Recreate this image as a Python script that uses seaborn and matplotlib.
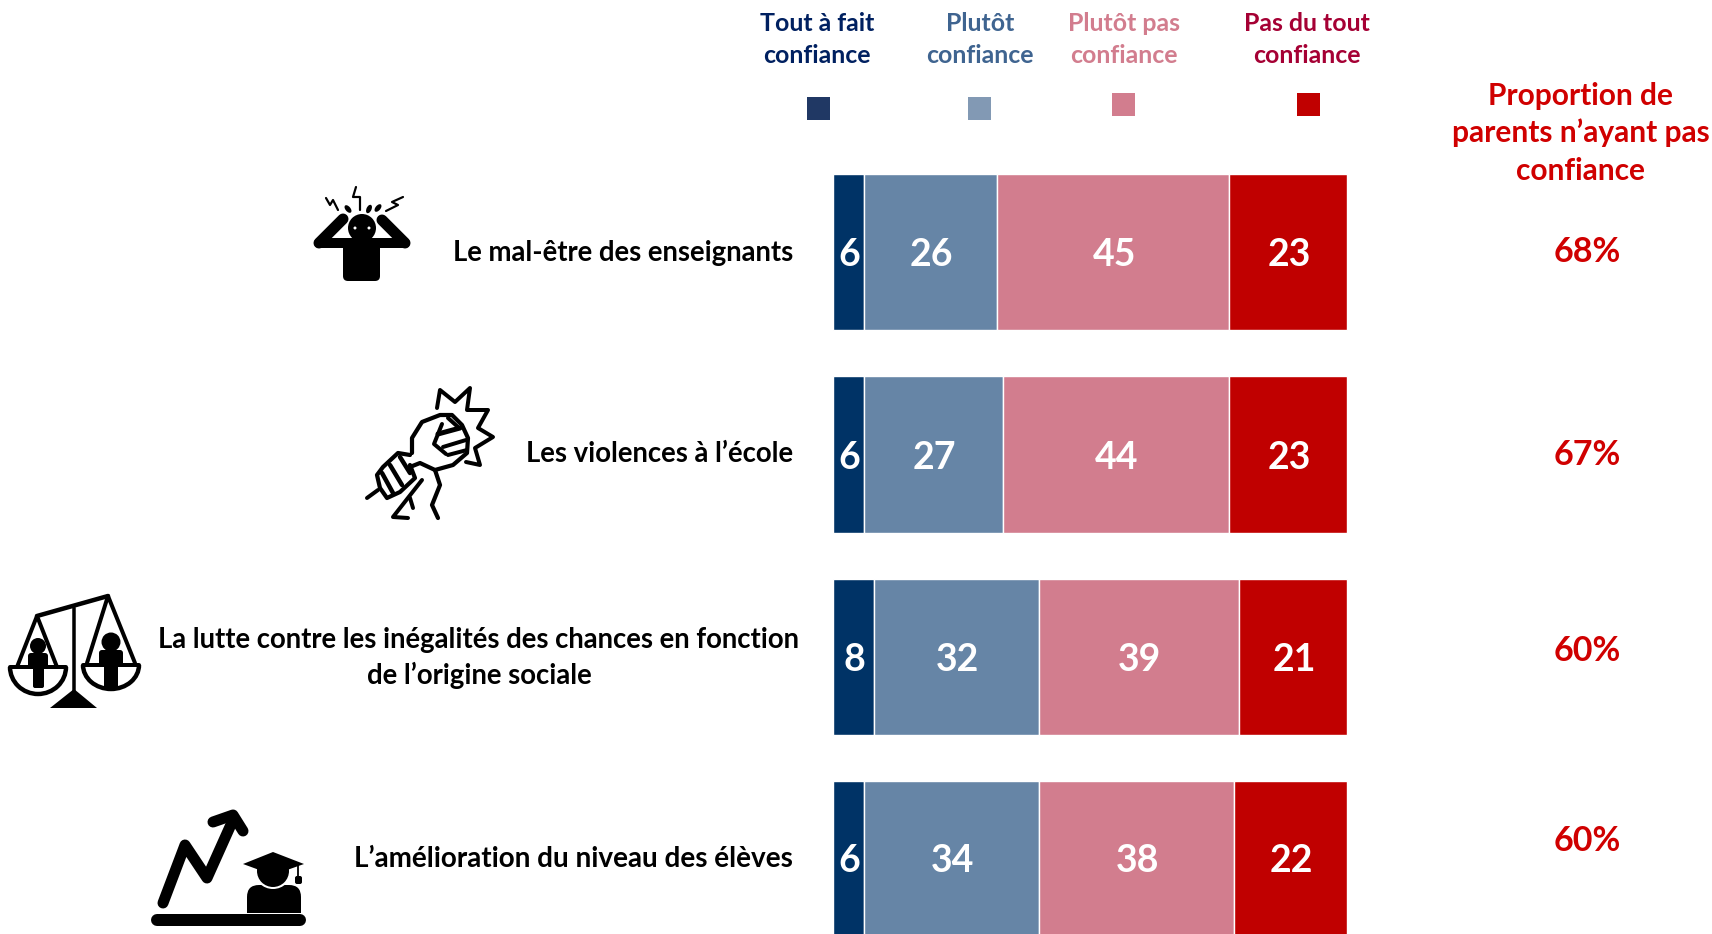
import matplotlib
matplotlib.use("Agg")
import matplotlib.pyplot as plt
import matplotlib.patches as mp
import seaborn as sns
import pandas as pd
import numpy as np

# data
items = ["Le mal-être des enseignants", "Les violences à l’école",
         "La lutte contre les inégalités", "L’amélioration du niveau des élèves"]
tout_a_fait = [6, 6, 8, 6]
plutot = [26, 27, 32, 34]
plutot_pas = [45, 44, 39, 38]
pas_du_tout = [23, 23, 21, 22]
pas_confiance = ["68%", "67%", "60%", "60%"]
legend_labels = ["Tout à fait\nconfiance", "Plutôt\nconfiance", "Plutôt pas\nconfiance", "Pas du tout\nconfiance"]

bar_colors = ["#003366", "#6685A6", "#D27D8E", "#C00000"]
legend_text_colors = ["#002060", "#3F6490", "#D27D8E", "#A50034"]
legend_box_colors = ["#203864", "#8299B4", "#D27D8E", "#C00000"]
red = "#D00000"

sns.set_theme(style="white")
plt.rcParams["font.family"] = ["Lato", "DejaVu Sans"]
plt.rcParams["font.weight"] = "bold"

fig = plt.figure(figsize=(17.12, 9.34), dpi=100)
ax = fig.add_axes([0, 0, 1, 1])

series = [tout_a_fait, plutot, plutot_pas, pas_du_tout]
left = np.zeros(len(items))
for vals, col in zip(series, bar_colors):
    df = pd.DataFrame({"item": items, "val": vals})
    sns.barplot(data=df, x="val", y="item", order=items, color=col, saturation=1,
                left=left, width=0.772, edgecolor="white", linewidth=1.0, ax=ax)
    labs = ax.bar_label(ax.containers[-1], labels=[str(v) for v in vals], label_type="center",
                        color="white", fontsize=27, fontweight="bold")
    for t in labs:
        t.xyann = (0.7, -2.5)
    left = left + np.array(vals)

# 100 = 514 px, first bar starts at px 833, rows every 202.5 px
ax.set_xlim(-833 / 5.14, (1712 - 833) / 5.14)
ax.set_ylim((934 - 252) / 202.5, -252 / 202.5)
ax.axis("off")

# overlay in pixels for texts and pictos
ov = fig.add_axes([0, 0, 1, 1], facecolor="none")
ov.set_xlim(0, 1712)
ov.set_ylim(934, 0)
ov.axis("off")


def ln(pts, w=4, col="black"):
    xs, ys = zip(*pts)
    ov.plot(xs, ys, color=col, lw=w * 0.72, solid_capstyle="round", solid_joinstyle="round")


def poly(pts, col="black"):
    ov.add_patch(mp.Polygon(pts, closed=True, fc=col, ec="none"))


def rrect(x0, y0, x1, y1, r=5):
    ov.add_patch(mp.FancyBboxPatch((x0 + r, y0 + r), x1 - x0 - 2 * r, y1 - y0 - 2 * r,
                                   boxstyle="round,pad=%d" % r, fc="black", ec="none"))


def circ(x, y, r, col="black"):
    ov.add_patch(mp.Circle((x, y), r, fc=col, ec="none"))


# legend
leg_x = [817, 980, 1124, 1307]
box_x = [807, 968, 1112, 1297]
box_y = [97, 97, 93, 93]
for i in range(4):
    a, b = legend_labels[i].split("\n")
    ov.text(leg_x[i], 23.5, a, color=legend_text_colors[i], fontsize=17.9, ha="center", va="center")
    ov.text(leg_x[i], 55.5, b, color=legend_text_colors[i], fontsize=17.9, ha="center", va="center")
    ov.add_patch(mp.Rectangle((box_x[i], box_y[i]), 23, 23, fc=legend_box_colors[i], ec="none"))

# right column
for y, t in zip([96, 133, 171], ["Proportion de", "parents n’ayant pas", "confiance"]):
    ov.text(1581, y, t, color=red, fontsize=21.5, ha="center", va="center")
for y, t in zip([252, 455, 651, 841], pas_confiance):
    ov.text(1587, y, t, color=red, fontsize=24.5, ha="center", va="center")

# row labels
ov.text(793, 253, "Le mal-être des enseignants", color="black", fontsize=19.8, ha="right", va="center")
ov.text(793, 454, "Les violences à l’école", color="black", fontsize=19.8, ha="right", va="center")
ov.text(479, 640, "La lutte contre les inégalités des chances en fonction", color="black", fontsize=19.8, ha="center", va="center")
ov.text(479, 675, "de l’origine sociale", color="black", fontsize=19.8, ha="center", va="center")
ov.text(793, 859, "L’amélioration du niveau des élèves", color="black", fontsize=20.1, ha="right", va="center")

# picto 1 : stress
ln([(319, 243), (343, 219)], 11)
ln([(405, 243), (382, 220)], 11)
circ(362, 228, 17, "white")
ln([(319, 243), (405, 243)], 10)
rrect(343, 243, 380, 281, 5)
circ(362, 228, 14)
circ(355, 228, 1.5, "white")
circ(369, 228, 1.5, "white")
ln([(326, 198), (330, 205), (333, 200), (338, 210)], 2.2)
ln([(356, 187), (353, 197), (360, 197), (360, 210)], 2.2)
ln([(403, 197), (392, 202), (398, 205), (386, 211)], 2.2)
for x, y, a in [(348, 209, 50), (369, 209, -65), (378, 208, -50)]:
    ov.add_patch(mp.Ellipse((x, y), 9, 5, angle=a, fc="black", ec="none"))

# picto 2 : poings
ln([(437, 408), (440, 390), (455, 402), (470, 388), (467, 410), (488, 410), (478, 428),
    (493, 437), (475, 448), (480, 465), (466, 462)], 4)
ln([(412, 453), (412, 438), (422, 422), (440, 415), (452, 415), (462, 425), (468, 438),
    (467, 453), (453, 465), (435, 470), (420, 463), (410, 467)], 4.2)
ln([(442, 424), (434, 444), (446, 454)], 4)
ln([(438, 434), (460, 428)], 5)
ln([(443, 447), (466, 440)], 4)
ln([(448, 455), (467, 450)], 4)
ln([(448, 418), (458, 427)], 4)
ln([(435, 470), (440, 485), (432, 505), (438, 518)], 4.2)
ln([(410, 455), (398, 453), (383, 467), (377, 475), (380, 488), (387, 498), (400, 492),
    (415, 478), (410, 465)], 4.2)
ln([(390, 465), (402, 485)], 4.5)
ln([(382, 473), (393, 493)], 4.5)
ln([(400, 457), (410, 473)], 4.5)
ln([(367, 498), (378, 490)], 4)
ln([(422, 480), (393, 517), (408, 518)], 4)
ln([(410, 498), (413, 508)], 4)

# picto 3 : balance
ln([(37, 616), (108, 596)], 4.5)
ln([(74, 608), (74, 697)], 3.5)
poly([(50, 708), (97, 708), (74, 689)])
ln([(17, 667), (37, 616), (57, 667)], 4)
ln([(87, 663), (108, 596), (135, 663)], 4)
for cx, cy, rx, ry in [(38, 667, 28, 27), (111, 665, 28, 24)]:
    ln([(cx - rx, cy), (cx + rx, cy)], 4)
    ov.add_patch(mp.Arc((cx, cy), 2 * rx, 2 * ry, theta1=0, theta2=180, color="black", lw=3.2))
circ(38, 646, 8)
rrect(28, 653, 48, 668, 3)
rrect(33, 660, 44, 688, 2)
circ(111, 642, 9.5)
rrect(99, 650, 123, 666, 3)
rrect(104, 658, 118, 690, 2)

# picto 4 : niveau
ln([(163, 903), (185, 845), (207, 878), (233, 820)], 11)
ln([(213, 822), (233, 815), (243, 831)], 11)
ln([(157, 920), (300, 920)], 12)
rrect(247, 885, 301, 913, 12)
ov.add_patch(mp.Rectangle((247, 900), 54, 13, fc="black", ec="none"))
circ(273, 870, 19, "white")
circ(273, 871, 16)
poly([(243, 864), (273, 852), (304, 864), (273, 875)])
ln([(298, 865), (298, 877)], 1.8)
rrect(295, 876, 302, 884, 2)

fig.savefig("out.png", dpi=100)
